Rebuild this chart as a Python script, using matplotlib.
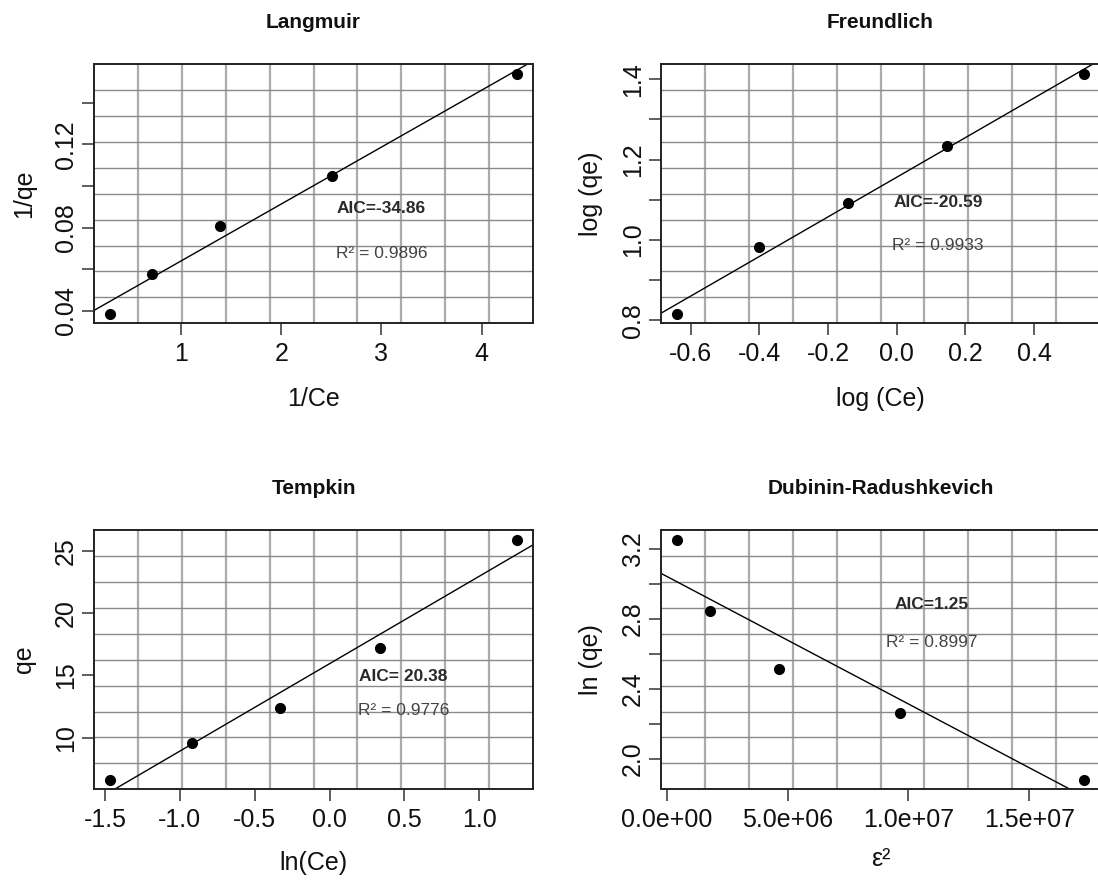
import numpy as np
import matplotlib
matplotlib.use("Agg")
import matplotlib.pyplot as plt
from matplotlib.ticker import FixedLocator, FixedFormatter

# ---------------- data ----------------
lang_x = [0.294, 0.713, 1.385, 2.504, 4.35]
lang_y = [0.0387, 0.0579, 0.081, 0.1046, 0.154]

freu_x = [-0.639, -0.401, -0.143, 0.146, 0.545]
freu_y = [0.8166, 0.983, 1.091, 1.233, 1.414]

temp_x = [-1.465, -0.919, -0.333, 0.335, 1.25]
temp_y = [6.61, 9.6, 12.4, 17.24, 25.94]

dr_x = [0.435e6, 1.80e6, 4.64e6, 9.63e6, 17.25e6]
dr_y = [3.254, 2.844, 2.511, 2.262, 1.879]

titles = ["Langmuir", "Freundlich", "Tempkin", "Dubinin-Radushkevich"]
xlabels = ["1/Ce", "log (Ce)", "ln(Ce)", "ε²"]
ylabels = ["1/qe", "log (qe)", "qe", "ln (qe)"]
aic_text = ["AIC=-34.86", "AIC=-20.59", "AIC= 20.38", "AIC=1.25"]
r2_text = ["R² = 0.9896", "R² = 0.9933", "R² = 0.9776", "R² = 0.8997"]

lang_xticks = [1, 2, 3, 4]
lang_xlabels = ["1", "2", "3", "4"]
lang_yticks = [0.04, 0.06, 0.08, 0.10, 0.12, 0.14]
lang_ylabels = ["0.04", "", "0.08", "", "0.12", ""]

freu_xticks = [-0.6, -0.4, -0.2, 0.0, 0.2, 0.4]
freu_xlabels = ["-0.6", "-0.4", "-0.2", "0.0", "0.2", "0.4"]
freu_yticks = [0.8, 0.9, 1.0, 1.1, 1.2, 1.3, 1.4]
freu_ylabels = ["0.8", "", "1.0", "", "1.2", "", "1.4"]

temp_xticks = [-1.5, -1.0, -0.5, 0.0, 0.5, 1.0]
temp_xlabels = ["-1.5", "-1.0", "-0.5", "0.0", "0.5", "1.0"]
temp_yticks = [10, 15, 20, 25]
temp_ylabels = ["10", "15", "20", "25"]

dr_xticks = [0.0, 5.0e6, 1.0e7, 1.5e7]
dr_xlabels = ["0.0e+00", "5.0e+06", "1.0e+07", "1.5e+07"]
dr_yticks = [2.0, 2.2, 2.4, 2.6, 2.8, 3.0, 3.2]
dr_ylabels = ["2.0", "", "2.4", "", "2.8", "", "3.2"]

# annotation anchor positions (data coords)
ann_pos = [
    (3.0, 0.089, 0.0675),
    (0.121, 1.094, 0.986),
    (0.492, 14.9, 12.2),
    (10.95e6, 2.88, 2.666),
]

# ---------------- layout ----------------
W, H = 1098, 883
fig = plt.figure(figsize=(W / 100, H / 100), dpi=100)
fig.patch.set_facecolor("white")

FONT = ["Liberation Sans", "DejaVu Sans"]

def px_axes(x0, x1, ytop, ybot):
    return fig.add_axes([x0 / W, 1 - ybot / H, (x1 - x0) / W, (ybot - ytop) / H])

boxes = [
    (94, 533, 64, 323.3),
    (661, 1100, 64, 323.3),
    (94, 533, 530, 789.3),
    (661, 1100, 530, 789.3),
]

datasets = [
    (lang_x, lang_y, lang_xticks, lang_xlabels, lang_yticks, lang_ylabels),
    (freu_x, freu_y, freu_xticks, freu_xlabels, freu_yticks, freu_ylabels),
    (temp_x, temp_y, temp_xticks, temp_xlabels, temp_yticks, temp_ylabels),
    (dr_x, dr_y, dr_xticks, dr_xlabels, dr_yticks, dr_ylabels),
]

for i, (box, ds) in enumerate(zip(boxes, datasets)):
    x0, x1, yt, yb = box
    ax = px_axes(x0, x1, yt, yb)
    xs, ys, xt, xtl, yt_, ytl = ds
    xs = np.asarray(xs, float)
    ys = np.asarray(ys, float)

    # R-style 4% axis extension
    xr = xs.max() - xs.min()
    yr = ys.max() - ys.min()
    xlim = (xs.min() - 0.04 * xr, xs.max() + 0.04 * xr)
    ylim = (ys.min() - 0.04 * yr, ys.max() + 0.04 * yr)
    ax.set_xlim(*xlim)
    ax.set_ylim(*ylim)

    # 10 x 10 evenly spaced grid
    for gx in np.linspace(xlim[0], xlim[1], 11)[1:-1]:
        ax.axvline(gx, color="#ababab", lw=1.6, zorder=1)
    for gy in np.linspace(ylim[0], ylim[1], 11)[1:-1]:
        ax.axhline(gy, color="#8a8a8a", lw=1.0, zorder=1)

    # regression line
    m, b = np.polyfit(xs, ys, 1)
    ax.axline((0.0, b), slope=m, color="black", lw=1.0, zorder=2)

    # points
    ax.plot(xs, ys, "o", color="black", ms=7, zorder=3)

    # ticks
    ax.xaxis.set_major_locator(FixedLocator(xt))
    ax.xaxis.set_major_formatter(FixedFormatter(xtl))
    ax.yaxis.set_major_locator(FixedLocator(yt_))
    ax.yaxis.set_major_formatter(FixedFormatter(ytl))
    ax.tick_params(axis="both", direction="out", length=8.5, width=1.1,
                   color="#333333", labelsize=18, labelcolor="#111111")
    ax.tick_params(axis="x", pad=5)
    ax.tick_params(axis="y", pad=3)
    for lab in ax.get_xticklabels():
        lab.set_fontfamily(FONT)
    for lab in ax.get_yticklabels():
        lab.set_fontfamily(FONT)
        lab.set_rotation(90)
        lab.set_va("center")

    for sp in ax.spines.values():
        sp.set_linewidth(1.4)
        sp.set_color("#222222")

    # annotations
    ax_, aic_y, r2_y = ann_pos[i]
    ax.text(ax_, aic_y, aic_text[i], ha="center", va="center",
            fontsize=12.5, family=FONT, fontweight="bold", color="#2a2a2a", zorder=4)
    ax.text(ax_, r2_y, r2_text[i], ha="center", va="center",
            fontsize=12.5, family=FONT, color="#444444", zorder=4)

    # titles and labels in pixel positions
    cx = (x0 + min(x1, 1100)) / 2
    cy = (yt + yb) / 2
    title_y = yt - 41
    fig.text(cx / W, 1 - title_y / H, titles[i], ha="center", va="center",
             fontsize=15, fontweight="bold", family=FONT, color="#111111")
    xl_y = yb + (76 if i < 2 else 74)
    if i == 3:
        xl_y = yb + 70
    fig.text(cx / W, 1 - xl_y / H, xlabels[i], ha="center", va="center",
             fontsize=18, family=FONT, color="#111111")
    yl_x = x0 - 70
    fig.text(yl_x / W, 1 - cy / H, ylabels[i], ha="center", va="center",
             rotation=90, fontsize=18, family=FONT, color="#111111")

fig.savefig("out.png", dpi=100, facecolor="white")
